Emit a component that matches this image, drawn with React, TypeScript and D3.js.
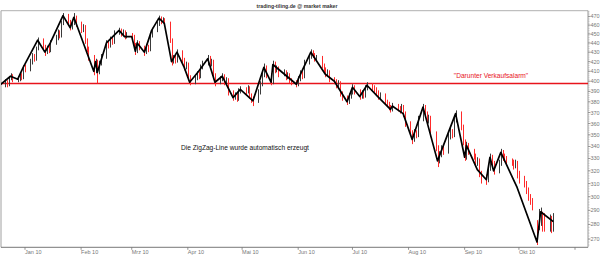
import React from "react";
import * as d3 from "d3";

const W = 600;
const H = 255;

// trading days from 18 Dec 2009 to 20 Oct 2010
const firstDay = new Date(2009, 11, 18);
const lastDayExcl = new Date(2010, 9, 21);

const closes = [
  396,
  399, 397, 403, 405, 402,
  402, 406, 404, 414, 412,
  420, 426, 423, 434, 443,
  436, 430, 434, 432, 440,
  446, 452, 448, 462, 471,
  463, 457, 462, 469, 462,
  455, 458, 442, 433, 425,
  410, 420, 409, 418, 425,
  440, 437, 444, 441, 451,
  454, 450, 452, 447, 449,
  447, 438, 431, 440, 435,
  430, 436, 433, 448, 454,
  461, 468, 464, 466, 462,
  443, 420, 424, 421, 430,
  422, 414, 417, 404, 399,
  403, 407, 405, 414, 418,
  423, 417, 420, 405, 399,
  402, 405, 399, 401, 389,
  384, 386, 383, 390, 392,
  390, 393, 386, 383, 381,
  389, 397, 406, 414, 406,
  399, 417, 411, 413, 407,
  409, 404, 406, 401, 399,
  397, 402, 408, 405, 419,
  425, 430, 427, 423, 424,
  416, 412, 407, 409, 402,
  400, 396, 398, 388, 384,
  380, 385, 389, 394, 390,
  385, 388, 386, 393, 396,
  394, 392, 389, 385, 386,
  380, 378, 375, 373, 376,
  374, 372, 375, 369, 360,
  352, 346, 352, 350, 364,
  375, 369, 363, 365, 351,
  339, 328, 333, 338, 336,
  348, 353, 350, 363, 369,
  357, 344, 331, 341, 336,
  332, 326, 328, 318, 315,
  313, 322, 331, 326, 320,
  326, 335, 331, 330, 328,
  327, 324, 326, 318, 314,
  310, 305, 300, 297, 293,
  270, 284, 289, 283, 280,
  283, 280, 285,
];

const highs = [
  399,
  402, 401, 405, 408, 407,
  405, 409, 408, 416, 417,
  423, 429, 428, 436, 446,
  445, 438, 437, 437, 443,
  449, 455, 454, 465, 474,
  473, 466, 465, 474, 471,
  464, 461, 460, 445, 436,
  427, 423, 422, 421, 428,
  443, 442, 447, 447, 454,
  457, 456, 455, 454, 452,
  451, 449, 440, 443, 442,
  437, 439, 438, 450, 457,
  464, 471, 470, 469, 468,
  464, 445, 427, 427, 433,
  432, 424, 420, 419, 406,
  406, 410, 410, 417, 421,
  427, 426, 423, 422, 408,
  405, 408, 407, 404, 403,
  391, 389, 388, 393, 395,
  394, 396, 395, 388, 385,
  392, 400, 409, 418, 416,
  408, 421, 420, 416, 415,
  412, 411, 409, 408, 403,
  401, 405, 411, 410, 422,
  428, 433, 432, 429, 427,
  426, 418, 414, 412, 411,
  404, 402, 401, 400, 390,
  386, 388, 392, 397, 396,
  392, 391, 390, 396, 399,
  398, 396, 394, 391, 389,
  388, 382, 380, 377, 379,
  378, 376, 378, 377, 371,
  362, 354, 355, 354, 367,
  378, 377, 371, 368, 367,
  353, 341, 336, 341, 341,
  351, 356, 355, 366, 372,
  371, 359, 346, 344, 343,
  338, 334, 331, 330, 320,
  317, 325, 334, 333, 328,
  329, 338, 337, 334, 332,
  330, 329, 329, 328, 320,
  316, 312, 307, 302, 299,
  283, 291, 292, 289, 288,
  287, 286, 288,
];

const lows = [
  391,
  394, 394, 395, 401, 399,
  399, 400, 401, 402, 409,
  410, 417, 420, 421, 432,
  433, 426, 428, 429, 430,
  438, 443, 445, 446, 460,
  460, 454, 455, 460, 458,
  451, 452, 439, 430, 421,
  406, 408, 398, 407, 416,
  423, 434, 435, 438, 439,
  449, 447, 448, 444, 445,
  444, 435, 427, 429, 432,
  426, 428, 430, 431, 446,
  452, 459, 461, 462, 459,
  440, 416, 418, 418, 419,
  419, 411, 412, 401, 396,
  397, 401, 402, 403, 412,
  416, 414, 415, 402, 395,
  397, 400, 396, 397, 386,
  381, 382, 380, 381, 388,
  387, 388, 383, 379, 376,
  379, 387, 395, 404, 403,
  396, 397, 408, 409, 404,
  405, 401, 402, 398, 396,
  394, 395, 400, 402, 403,
  417, 423, 424, 420, 420,
  413, 409, 404, 405, 399,
  397, 393, 394, 385, 381,
  377, 378, 383, 387, 387,
  382, 383, 383, 384, 391,
  391, 389, 386, 382, 382,
  377, 375, 372, 370, 371,
  371, 369, 370, 366, 357,
  349, 342, 344, 347, 348,
  362, 366, 360, 360, 348,
  336, 323, 326, 331, 333,
  334, 346, 347, 348, 361,
  354, 341, 328, 329, 333,
  329, 323, 324, 315, 310,
  309, 311, 320, 323, 317,
  318, 324, 328, 327, 325,
  324, 321, 322, 314, 310,
  307, 302, 297, 294, 290,
  266, 276, 279, 275, 275,
  275, 274, 275,
];

const zigzagDates = [
  "2009-12-18", "2009-12-24", "2009-12-28", "2009-12-31", "2010-01-08", "2010-01-12",
  "2010-01-15", "2010-01-22", "2010-01-26", "2010-01-28", "2010-02-08", "2010-02-09",
  "2010-02-10", "2010-02-15", "2010-02-22", "2010-02-25", "2010-03-01", "2010-03-03",
  "2010-03-04", "2010-03-08", "2010-03-12", "2010-03-16", "2010-03-19", "2010-03-23",
  "2010-03-26", "2010-03-30", "2010-04-02", "2010-04-07", "2010-04-12", "2010-04-16",
  "2010-04-20", "2010-04-26", "2010-04-30", "2010-05-07", "2010-05-13", "2010-05-17",
  "2010-05-18", "2010-05-31", "2010-06-01", "2010-06-08", "2010-06-16", "2010-06-21",
  "2010-06-28", "2010-07-01", "2010-07-05", "2010-07-09", "2010-07-15", "2010-07-22",
  "2010-07-23", "2010-07-29", "2010-08-03", "2010-08-09", "2010-08-17", "2010-08-27",
  "2010-09-01", "2010-09-02", "2010-09-08", "2010-09-13", "2010-09-15", "2010-09-17",
  "2010-09-21", "2010-09-30", "2010-10-11", "2010-10-13", "2010-10-20",
];
const zigzagValues = [
  396, 405, 402, 414, 443, 430,
  440, 471, 457, 469, 410, 420,
  409, 440, 454, 447, 447, 431,
  440, 430, 454, 468, 462, 420,
  430, 414, 399, 410, 423, 399,
  405, 384, 392, 381, 414, 399,
  417, 397, 402, 430, 407, 400,
  380, 394, 385, 396, 385, 373,
  376, 369, 346, 375, 328, 369,
  331, 341, 321, 313, 331, 320,
  335, 307, 268, 289, 282,
];

const alarmLevel = 397.7;
const yTicks = [270, 280, 290, 300, 310, 320, 330, 340, 350, 360, 370, 380, 390, 400, 410, 420, 430, 440, 450, 460, 470];
const monthLabels = ["Jan 10", "Feb 10", "Mrz 10", "Apr 10", "Mai 10", "Jun 10", "Jul 10", "Aug 10", "Sep 10", "Okt 10", ""];
const titleText = "trading-tiling.de @ market maker";
const noteText = "Die ZigZag-Line wurde automatisch erzeugt";
const alarmText = "\"Darunter Verkaufsalarm\"";

const FONT = "'Liberation Sans', Arial, sans-serif";

export default function App() {
  const left = 1;
  const right = 588;
  const top = 10.7;
  const bottom = 247.3;

  const x = d3
    .scaleTime()
    .domain([new Date(2010, 0, 1), new Date(2010, 10, 1)])
    .range([25, 575]);
  const y = d3.scaleLog().domain([264.5, 476.8]).range([bottom, top]);

  const days = d3
    .timeDay.range(firstDay, lastDayExcl)
    .filter((d) => d.getDay() !== 0 && d.getDay() !== 6);

  const bars = days.map((d, i) => ({
    date: d,
    hi: highs[i],
    lo: lows[i],
    c: closes[i],
    down: i > 0 && closes[i] < closes[i - 1],
  })).filter((b) => b.hi !== undefined);

  const parse = d3.timeParse("%Y-%m-%d");
  const zz = zigzagDates.map((s, i) => ({ date: parse(s) as Date, v: zigzagValues[i] }));
  const line = d3
    .line<{ date: Date; v: number }>()
    .x((d) => x(d.date))
    .y((d) => y(d.v));

  const months = d3.timeMonth.range(new Date(2010, 0, 1), new Date(2010, 10, 2));
  const minor = d3.range(266, 477, 2);

  return (
    <svg
      width={W}
      height={H}
      style={{ position: "absolute", left: 0, top: 0, background: "#fff" }}
      fontFamily={FONT}
    >
      <defs>
        <clipPath id="plot">
          <rect x={left} y={top} width={right - left} height={bottom - top} />
        </clipPath>
      </defs>
      <rect x={0} y={0} width={W} height={H} fill="#fff" />

      {/* frame */}
      <line x1={left} x2={right} y1={top} y2={top} stroke="#b0b0b0" strokeWidth={1} />
      <line x1={left} x2={left} y1={top} y2={bottom} stroke="#a0a0a0" strokeWidth={1} />
      <line x1={left} x2={right} y1={bottom} y2={bottom} stroke="#777" strokeWidth={1} />
      <line x1={right} x2={right} y1={top} y2={bottom} stroke="#999" strokeWidth={1} />

      {/* title */}
      <text x={297} y={8.2} fontSize={5.2} fontWeight="bold" fill="#333" textAnchor="middle">
        {titleText}
      </text>

      {/* right axis */}
      {minor.map((v) => (
        <line key={"m" + v} x1={right} x2={right + 1.5} y1={y(v)} y2={y(v)} stroke="#aaa" strokeWidth={0.6} />
      ))}
      {yTicks.map((v) => (
        <g key={"t" + v}>
          <line x1={right} x2={right + 2.5} y1={y(v)} y2={y(v)} stroke="#888" strokeWidth={0.8} />
          <text x={590.5} y={y(v) + 2} fontSize={5.5} fill="#777">
            {v}
          </text>
        </g>
      ))}

      {/* bottom axis */}
      {months.map((m, i) => (
        <g key={"x" + i}>
          <line x1={x(m)} x2={x(m)} y1={bottom} y2={bottom + 2.5} stroke="#777" strokeWidth={0.8} />
          <text x={x(m)} y={253.5} fontSize={5.5} fill="#777">
            {monthLabels[i]}
          </text>
        </g>
      ))}

      <g clipPath="url(#plot)">
        {/* alarm level */}
        <line x1={left} x2={right} y1={y(alarmLevel)} y2={y(alarmLevel)} stroke="#e8141c" strokeWidth={1.6} />

        {/* bars */}
        {bars.map((b, i) => (
          <line
            key={"b" + i}
            x1={Math.round(x(b.date)) + 0.5}
            x2={Math.round(x(b.date)) + 0.5}
            y1={y(b.hi)}
            y2={y(b.lo)}
            stroke={b.down ? "#ff2a2a" : "#3a3a3a"}
            strokeWidth={1}
          />
        ))}

        {/* zigzag */}
        <path d={line(zz) || ""} fill="none" stroke="#000" strokeWidth={1.7} strokeLinejoin="round" />
      </g>

      <text x={491} y={77.5} fontSize={6.6} fill="#e8141c" textAnchor="middle">
        {alarmText}
      </text>
      <text x={181} y={149.5} fontSize={6.6} fill="#111">
        {noteText}
      </text>
    </svg>
  );
}
